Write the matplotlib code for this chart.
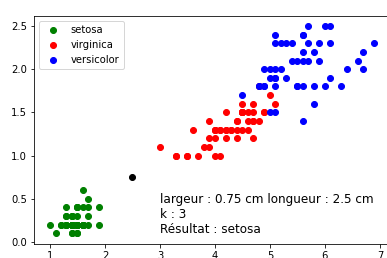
import matplotlib
matplotlib.use('Agg')
import matplotlib.pyplot as plt

# petal length / width, iris dataset
setosa_len = [1.4, 1.4, 1.3, 1.5, 1.4, 1.7, 1.4, 1.5, 1.4, 1.5, 1.5, 1.6, 1.4, 1.1, 1.2, 1.5, 1.3,
              1.4, 1.7, 1.5, 1.7, 1.5, 1.0, 1.7, 1.9, 1.6, 1.6, 1.5, 1.4, 1.6, 1.6, 1.5, 1.5, 1.4,
              1.5, 1.2, 1.3, 1.4, 1.3, 1.5, 1.3, 1.3, 1.3, 1.6, 1.9, 1.4, 1.6, 1.4, 1.5, 1.4]
setosa_wid = [0.2, 0.2, 0.2, 0.2, 0.2, 0.4, 0.3, 0.2, 0.2, 0.1, 0.2, 0.2, 0.1, 0.1, 0.2, 0.4, 0.4,
              0.3, 0.3, 0.3, 0.2, 0.4, 0.2, 0.5, 0.2, 0.2, 0.4, 0.2, 0.2, 0.2, 0.2, 0.4, 0.1, 0.2,
              0.2, 0.2, 0.2, 0.1, 0.2, 0.2, 0.3, 0.3, 0.2, 0.6, 0.4, 0.3, 0.2, 0.2, 0.2, 0.2]

red_len = [4.7, 4.5, 4.9, 4.0, 4.6, 4.5, 4.7, 3.3, 4.6, 3.9, 3.5, 4.2, 4.0, 4.7, 3.6, 4.4, 4.5,
           4.1, 4.5, 3.9, 4.8, 4.0, 4.9, 4.7, 4.3, 4.4, 4.8, 5.0, 4.5, 3.5, 3.8, 3.7, 3.9, 5.1,
           4.5, 4.5, 4.7, 4.4, 4.1, 4.0, 4.4, 4.6, 4.0, 3.3, 4.2, 4.2, 4.2, 4.3, 3.0, 4.1]
red_wid = [1.4, 1.5, 1.5, 1.3, 1.5, 1.3, 1.6, 1.0, 1.3, 1.4, 1.0, 1.5, 1.0, 1.4, 1.3, 1.4, 1.5,
           1.0, 1.5, 1.1, 1.8, 1.3, 1.5, 1.2, 1.3, 1.4, 1.4, 1.7, 1.5, 1.0, 1.1, 1.0, 1.2, 1.6,
           1.5, 1.6, 1.5, 1.3, 1.3, 1.3, 1.2, 1.4, 1.2, 1.0, 1.3, 1.2, 1.3, 1.3, 1.1, 1.3]

blue_len = [6.0, 5.1, 5.9, 5.6, 5.8, 6.6, 4.5, 6.3, 5.8, 6.1, 5.1, 5.3, 5.5, 5.0, 5.1, 5.3, 5.5,
            6.7, 6.9, 5.0, 5.7, 4.9, 6.7, 4.9, 5.7, 6.0, 4.8, 4.9, 5.6, 5.8, 6.1, 6.4, 5.6, 5.1,
            5.6, 6.1, 5.6, 5.5, 4.8, 5.4, 5.6, 5.1, 5.1, 5.9, 5.7, 5.2, 5.0, 5.2, 5.4, 5.1]
blue_wid = [2.5, 1.9, 2.1, 1.8, 2.2, 2.1, 1.7, 1.8, 1.8, 2.5, 2.0, 1.9, 2.1, 2.0, 2.4, 2.3, 1.8,
            2.2, 2.3, 1.5, 2.3, 2.0, 2.0, 1.8, 2.1, 1.8, 1.8, 1.8, 2.1, 1.6, 1.9, 2.0, 2.2, 1.5,
            1.4, 2.3, 2.4, 1.8, 1.8, 2.1, 2.4, 2.3, 1.9, 2.3, 2.5, 2.3, 1.9, 2.0, 2.3, 1.8]

# point to classify
largeur = 0.75
longueur = 2.5
k = 3
resultat = 'setosa'

fig = plt.figure(figsize=(387 / 72, 258 / 72), dpi=72)
ax = fig.add_axes([0.0873, 0.0554, 0.922, 0.884])

ax.scatter(setosa_len, setosa_wid, color='g', label='setosa')
ax.scatter(red_len, red_wid, color='r', label='virginica')
ax.scatter(blue_len, blue_wid, color='b', label='versicolor')
ax.scatter(longueur, largeur, color='k')

ax.text(3, 0.1, f'largeur : {largeur} cm longueur : {longueur} cm\nk : {k}\nRésultat : {resultat}',
        fontsize=12)
ax.legend(loc='upper left')

fig.savefig('out.png', dpi=72)
